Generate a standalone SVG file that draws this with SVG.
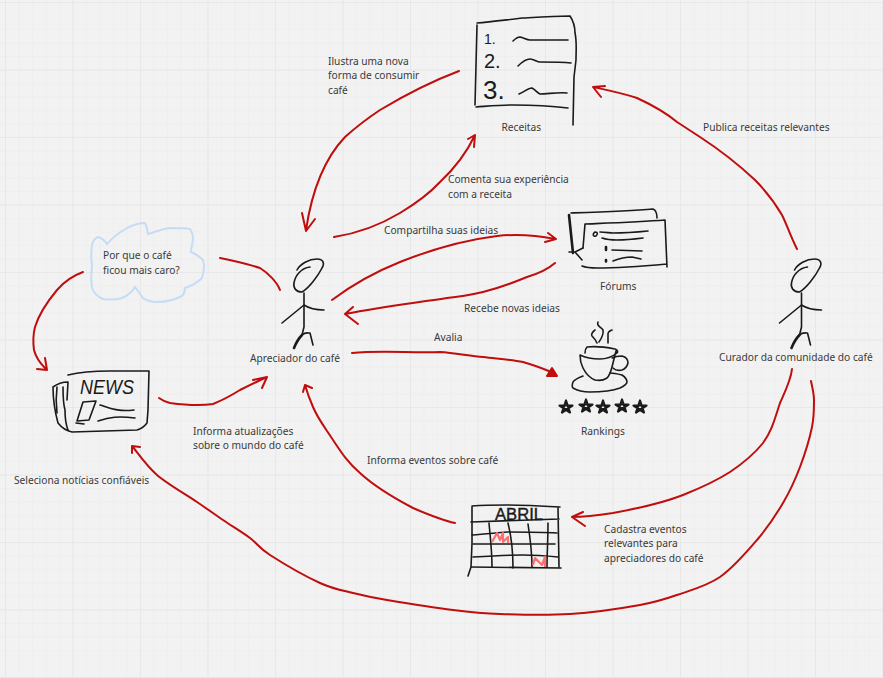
<svg xmlns="http://www.w3.org/2000/svg" width="883" height="678" viewBox="0 0 883 678">
<style>
text{font-family:"Noto Sans","Open Sans",sans-serif;font-size:10.2px;fill:#3a3a3a}
text.h{font-family:"Liberation Sans",Arial,sans-serif;fill:#1a1a1a}
.c{fill:none;stroke:#c00d0d;stroke-width:2;stroke-linecap:round;stroke-linejoin:round}
.k{fill:none;stroke:#1a1a1a;stroke-width:1.6;stroke-linecap:round;stroke-linejoin:round}
.b{stroke-width:2.6}
.r{fill:none;stroke:#fb7070;stroke-width:2.2;stroke-linejoin:round}
</style>
<defs>
<pattern id="minor" width="13.5" height="13.5" patternUnits="userSpaceOnUse" x="5" y="2"><path d="M0 0V13.5M0 0H13.5" fill="none" stroke="#ececec" stroke-width="1"/></pattern>
<pattern id="major" width="67.5" height="67.5" patternUnits="userSpaceOnUse" x="5" y="2"><path d="M0 0V67.5M0 0H67.5" fill="none" stroke="#e6e6e6" stroke-width="1.6"/></pattern>
<g id="person">
<path class="k" d="M297 270C300 264 309 259 317 259C323 259 325 263 322 268C318 276 309 288 302 292C296 292 293 288 294 283C295 276 301 268 310 267"/>
<path class="k" d="M304 293V327L302 335"/>
<path class="k" d="M282 323L304 305C310 309 316 310 324 310"/>
<path class="k b" d="M302 335C299 338 296 343 294 348"/>
<path class="k" d="M302 335C305 332 308 333 310 333L313 345"/>
</g>
<path id="star" class="k" style="stroke-width:2.200" d="M-6.500 -1.500H6.500L-4 5.500L0 -6.500L4 5.500Z"/>
</defs>
<rect width="883" height="678" fill="#f2f2f2"/>
<rect width="883" height="678" fill="url(#minor)"/>
<rect width="883" height="678" fill="url(#major)"/>

<g id="connectors">
<path class="c" d="M459 71C430 82 405 95 380 110C365 120 355 128 345 137C325 158 312 190 306 230M302 213L306 231L315 219"/>
<path class="c" d="M334 237C360 233 380 225 400 213C415 204 428 195 440 182C455 168 467 152 475 135M468 139L475 135L474 147"/>
<path class="c" d="M332 300C352 285 375 272 400 262C430 250 465 240 497 236C515 234 535 235 555 239M548 233L556 239L545 242"/>
<path class="c" d="M555 263C547 270 537 274 527 277C510 284 495 289 483 292C470 295 458 297 447 298C415 303 385 306 345 314M353 307L345 314L358 324"/>
<path class="c" d="M352 353C380 350 410 353 440 352C455 353 470 356 483 357C500 359 512 360 523 362C533 365 542 368 551 372"/>
<path class="c" d="M552 368L557 376H547Z" style="fill:#c00d0d"/>
<path class="c" d="M797 249C790 235 787 225 782 215C775 203 765 190 755 180C740 166 720 150 700 137L677 122C665 112 650 104 637 98C622 93 607 90 593 87M605 86L593 87L601 97"/>
<path class="c" d="M792 369C791 380 784 394 780 403C775 418 772 431 763 443C755 453 742 464 730 472C716 481 698 489 683 495C660 504 635 509 613 513C600 515 586 517 572 517M583 512L572 517L585 526"/>
<path class="c" d="M811 381C811.500 384 813.800 392.300 814 400C813.800 407.700 814.300 415.800 812 427C809.700 438.200 804.800 454.300 800 467C795.200 479.700 790.200 490.800 783 503C775.800 515.200 767.500 527.700 757 540C746.500 552.300 733.300 567.800 720 577C706.700 586.200 690.300 590.300 677 595C663.700 599.700 657.800 601.800 640 605C622.200 608.200 593.300 612.500 570 614C546.700 615.500 519.500 614.700 500 614C480.500 613.300 471.800 612.300 453 610C434.200 607.700 403.700 602.800 387 600C370.300 597.200 364.200 595.800 353 593C341.800 590.200 333.800 589.300 320 583C306.200 576.700 281.700 562.500 270 555C258.300 547.500 257.800 543.800 250 538C242.200 532.200 231.800 526 223 520C214.200 514 208 509.500 197 502C186 494.500 167.800 484.300 157 475C146.200 465.700 136.200 450.800 132 446M132 453L132 446L140 447"/>
<path class="c" d="M455 523C441 520 427 514 413 508C394 498 374 486 360 473C348 463 341 452 333 440C326 429 318 419 313 407C310 400 307 392 305 385M303 392L305 385L312 388"/>
<path class="c" d="M159 398C163 401 166 402 170 403C185 405 200 406 213 404C223 400 232 395 240 390C250 385 258 381 267 377M253 380L267 377L262 388"/>
<path class="c" d="M83 272C72 276 63 283 57 290C47 302 39 314 35 327C33 335 33 343 34 350C36 358 40 363 45 368M37 369L47 370L45 358"/>
<path class="c" d="M220 258C235 261 248 264 260 268C268 273 277 282 280 290"/>
</g>

<g id="recipes">
<path class="k" d="M477 23C490 22 505 20 523 18C540 17 555 16 570 16C574 22 575 28 575 33C577 42 576 50 576 60L574 77L573 125"/>
<path class="k" d="M477 25L475 105M476 107C490 106 500 105 513 105C535 105 552 106 568 108"/>
<text class="h" x="484" y="44" style="font-size:14px">1.</text>
<text class="h" x="484" y="68" style="font-size:20px">2.</text>
<text class="h" x="483" y="99" style="font-size:26px">3.</text>
<path class="k" d="M513 41C516 38 518 37 520 37C524 38 527 40 530 40H568"/>
<path class="k" d="M518 66C522 62 526 59 530 59C534 59 537 62 540 62C552 62 562 62 571 63"/>
<path class="k" d="M519 94C524 92 528 88 532 88C536 90 537 93 540 94C548 94 558 92 567 93"/>
<text x="501.500" y="131">Receitas</text>
</g>

<g id="forums">
<path class="k" d="M571 213C600 212 630 211 653 209C656 210 657 214 657 218"/>
<path class="k b" d="M569 215L573 253"/>
<path class="k" d="M569 252L575 252L583 248M575 252L582 260"/>
<path class="k" d="M585 224C610 223 640 222 665 220L667 267M583 248L585 224M582 266C587 268 592 268 597 268C620 268 645 266 667 264"/>
<path class="k" d="M595 232C592 234 593 237 596 236C598 234 598 232 595 232ZM600 232C605 232 610 233 613 233C625 233 638 232 648 231"/>
<path class="k" d="M602 238C608 240 612 240 617 240C625 240 635 239 643 238"/>
<path class="k b" d="M606 247V250M606 260V261.500"/>
<path class="k" d="M612 250L642 251M613 261C618 259 625 257 632 257L641 259"/>
<text x="600" y="290">Fórums</text>
</g>

<g id="cloud">
<path d="M92 245C93 241 95 238 98 237C102 238 105 241 107 244C112 238 120 232 127 228C133 225 139 223 145 223C147 226 147 230 148 234C155 232 162 229 170 228C178 228 184 228 190 229C192 232 193 235 193 238C193 243 191 247 191 252C196 254 200 257 203 260C205 266 204 272 202 278C197 283 191 286 185 288C185 291 184 294 182 296C174 300 165 302 157 302C152 302 147 301 143 298L135 287C132 292 127 296 122 298C115 300 109 300 103 299C98 297 94 293 92 288C91 281 91 274 92 267C91 259 91 252 92 245Z" fill="none" stroke="#c6dcf6" stroke-width="2"/>
<text x="103" y="259">Por que o café</text>
<text x="103" y="274">ficou mais caro?</text>
</g>

<g id="news">
<path class="k" d="M68 375C80 372 95 371 110 371L149 371L148 410L147 423C144 427 141 429 137 430L72 432C67 431 62 428 58 423C55 412 53 400 53 387C57 384 62 382 68 382L67 400"/>
<path class="k" d="M63 387C63 395 63 403 65 410C65 418 66 425 68 430M57 387C56 395 56 405 57 413"/>
<text class="h" x="80" y="394" font-style="italic" textLength="54" lengthAdjust="spacingAndGlyphs" style="font-size:21px">NEWS</text>
<path class="k" d="M83 402L96 401L89 420L77 421ZM76 423L84 424"/>
<path class="k" d="M100 405C110 408 118 412 134 410M98 421C110 417 118 416 135 418"/>
</g>

<g id="ranking">
<path class="k" d="M598 322C596 326 601 327 603 330C604 335 601 339 599 342M595 330C592 332 591 335 592 336C594 338 596 340 597 343M612 330C609 331 608 333 608 334L608 343"/>
<path class="k" d="M585 353C585 350 586 348 587 347C595 346 605 347 615 349C618 350 618 352 617 353C612 357 606 359 600 359C593 359 586 358 580 355C580 360 581 364 583 368C586 374 590 378 595 380C600 381 604 380 607 378C610 375 611 371 612 367L616 351"/>
<path class="k" d="M612 358C616 356 619 356 622 356C626 357 628 360 628 363C627 367 625 369 622 370C618 371 615 370 613 368"/>
<path class="k" d="M583 376C578 378 574 380 573 382C572 385 572 387 573 388C578 391 584 392 590 392C600 392 612 391 620 388C624 386 627 384 627 382C627 379 625 377 622 375C618 374 614 373 610 373"/>
<use href="#star" x="566" y="407"/>
<use href="#star" x="586" y="406"/>
<use href="#star" x="603" y="407"/>
<use href="#star" x="622" y="406"/>
<use href="#star" x="640" y="407"/>
<text x="581" y="435">Rankings</text>
</g>

<g id="calendar">
<path class="k" d="M472 506C485 505 497 505 507 505C525 505 543 506 560 507M558 507L559 567M472 507V543L471 567L468 576M471 522C500 521 530 520 559 519"/>
<text class="h" x="495" y="520" textLength="48" lengthAdjust="spacingAndGlyphs" stroke="#1a1a1a" stroke-width=".4" style="font-size:17px">ABRIL</text>
<path class="k" d="M472 535C485 534 495 533 507 532C525 532 542 532 557 533M473 544H555M473 557C490 556 507 555 523 555C535 555 548 556 558 557M471 567L561 568"/>
<path class="k" d="M489 523C490 535 492 550 492 567M508 523C511 535 513 555 513 568M528 524C530 537 532 555 532 567M548 523C548 540 547 555 547 567"/>
<path class="r" d="M492 542L497 533L500 540L503 533L503 542L508 537L508 543"/>
<path class="r" d="M533 565L535 558L542 565L545 557L545 567"/>
</g>

<g id="appreciator">
<use href="#person"/>
<text x="250" y="362">Apreciador do café</text>
</g>
<g id="curator">
<use href="#person" transform="translate(497.500 0)"/>
<text x="719" y="361">Curador da comunidade do café</text>
</g>

<g id="labels">
<text x="328" y="65">Ilustra uma nova</text>
<text x="328" y="79">forma de consumir</text>
<text x="328" y="94">café</text>
<text x="448" y="183">Comenta sua experiência</text>
<text x="448" y="198">com a receita</text>
<text x="384" y="234">Compartilha suas ideias</text>
<text x="464" y="312">Recebe novas ideias</text>
<text x="434" y="341">Avalia</text>
<text x="703" y="131">Publica receitas relevantes</text>
<text x="193" y="435">Informa atualizações</text>
<text x="193" y="449">sobre o mundo do café</text>
<text x="367" y="464">Informa eventos sobre café</text>
<text x="14" y="484">Seleciona notícias confiáveis</text>
<text x="604" y="533">Cadastra eventos</text>
<text x="604" y="547">relevantes para</text>
<text x="604" y="562">apreciadores do café</text>
</g>
</svg>
